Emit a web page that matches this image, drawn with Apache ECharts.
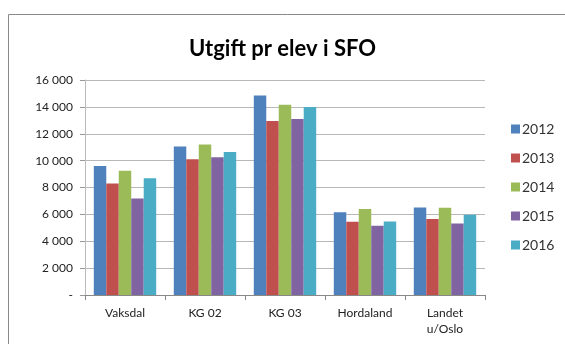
<!DOCTYPE html>
<html><head><meta charset="utf-8">
<script src="https://cdn.jsdelivr.net/npm/echarts@6/dist/echarts.min.js"></script>
<style>html,body{margin:0;padding:0;background:#fff}#c{width:565px;height:344px}</style>
</head><body><div id="c"></div>
<script>
const categories = ['Vaksdal', 'KG 02', 'KG 03', 'Hordaland', 'Landet\nu/Oslo'];
const years = ['2012', '2013', '2014', '2015', '2016'];
const s2012 = [9600, 11050, 14850, 6150, 6520];
const s2013 = [8300, 10100, 12950, 5450, 5650];
const s2014 = [9250, 11200, 14150, 6400, 6500];
const s2015 = [7180, 10250, 13100, 5150, 5330];
const s2016 = [8680, 10650, 14000, 5470, 5970];
const seriesData = [s2012, s2013, s2014, s2015, s2016];
const colors = ['#4F81BD', '#C0504D', '#9BBB59', '#8064A2', '#4BACC6'];
const FONT = 'Lato, "Open Sans", sans-serif';

const chart = echarts.init(document.getElementById('c'));
chart.setOption({
  animation: false,
  color: colors,
  graphic: [{type: 'rect', shape: {x: 8.5, y: 14.5, width: 700, height: 500}, style: {fill: 'none', stroke: '#8a8a8a', lineWidth: 1}, z: -1}],
  title: {text: 'Utgift pr elev i SFO', left: 'center', top: 33, textStyle: {fontFamily: FONT, fontWeight: 'bold', fontSize: 22, color: '#000'}},
  legend: {
    orient: 'vertical', left: 506, top: 117, itemGap: 15, itemWidth: 9, itemHeight: 9,
    icon: 'rect', textStyle: {fontFamily: FONT, fontSize: 14, color: '#333', padding: [0, 0, 0, -3]},
    data: years
  },
  grid: {left: 85, right: 80, top: 80, bottom: 49},
  xAxis: {
    type: 'category', data: categories,
    axisLine: {lineStyle: {color: '#888'}},
    axisTick: {show: true, length: 5, lineStyle: {color: '#888'}},
    axisLabel: {fontFamily: FONT, fontSize: 12, color: '#222', margin: 10, lineHeight: 16}
  },
  yAxis: {
    type: 'value', min: 0, max: 16000, interval: 2000,
    axisLine: {show: true, lineStyle: {color: '#bbb'}},
    axisTick: {show: true, length: 5, lineStyle: {color: '#999'}},
    splitLine: {lineStyle: {color: '#b8b8b8'}},
    axisLabel: {fontFamily: FONT, fontSize: 12, color: '#222', margin: 12,
      formatter: v => v === 0 ? '-' : String(v).replace(/\B(?=(\d{3})+(?!\d))/g, ' ')}
  },
  series: years.map((y, i) => ({
    name: y, type: 'bar', data: seriesData[i], barGap: '0%', barCategoryGap: '22%',
    itemStyle: {color: colors[i]}
  }))
});
</script></body></html>
